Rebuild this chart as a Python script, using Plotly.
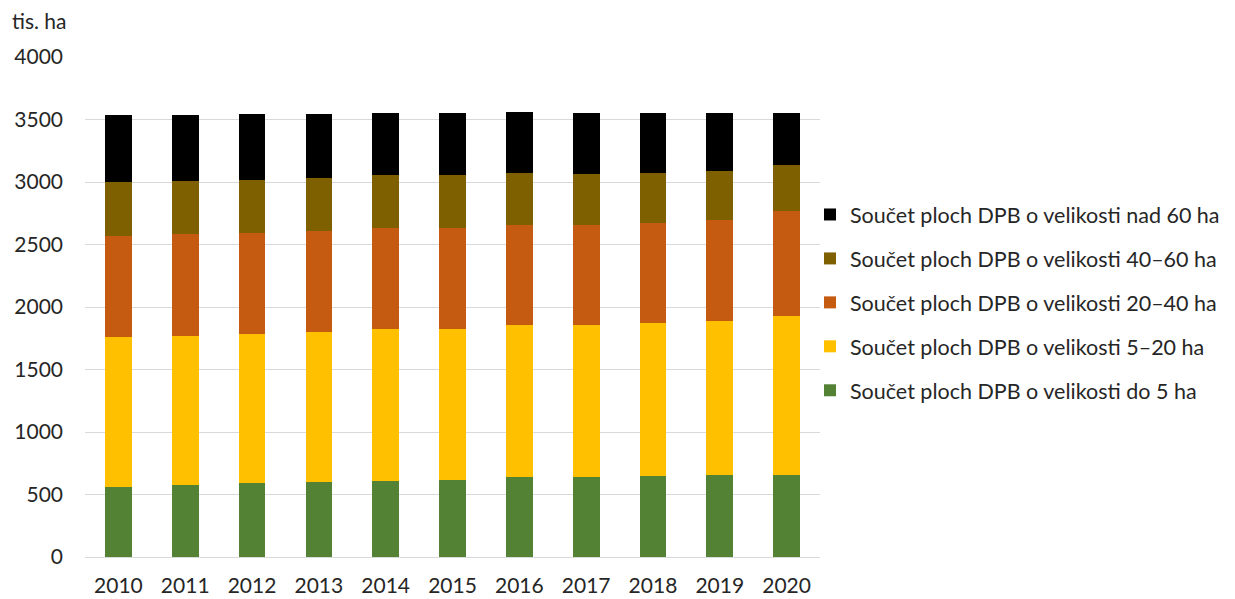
import plotly.graph_objects as go

years = ["2010", "2011", "2012", "2013", "2014", "2015", "2016", "2017", "2018", "2019", "2020"]

do_5 = [562, 574, 590, 600, 610, 618, 638, 638, 648, 656, 656]
od_5_20 = [1196, 1192, 1194, 1202, 1212, 1204, 1220, 1220, 1222, 1232, 1272]
od_20_40 = [808, 818, 808, 808, 810, 810, 798, 798, 800, 808, 842]
od_40_60 = [432, 424, 424, 424, 422, 422, 418, 408, 404, 394, 368]
nad_60 = [536, 526, 526, 508, 498, 498, 488, 490, 480, 464, 416]

names = [
    "Součet ploch DPB o velikosti do 5 ha",
    "Součet ploch DPB o velikosti 5–20 ha",
    "Součet ploch DPB o velikosti 20–40 ha",
    "Součet ploch DPB o velikosti 40–60 ha",
    "Součet ploch DPB o velikosti nad 60 ha",
]
series = [do_5, od_5_20, od_20_40, od_40_60, nad_60]
colors = ["#548235", "#FFC000", "#C55A11", "#7F6000", "#000000"]

FONT = "Lato, 'Open Sans', sans-serif"
TXT = "#262626"

L, T, W = 77, 49, 735

fig = go.Figure()
for i, (n, s, c) in enumerate(zip(names, series, colors)):
    fig.add_trace(go.Bar(x=years, y=s, name=n, marker=dict(color=c, line=dict(width=0)),
                         legendgroup=f"g{i}", legendrank=100 - i))

fig.update_layout(
    barmode="stack",
    bargap=0.6,
    width=1235, height=599,
    margin=dict(l=L, r=1235 - L - W, t=T, b=599 - T - 500, autoexpand=False),
    plot_bgcolor="white", paper_bgcolor="white",
    font=dict(family=FONT, size=21, color=TXT),
    legend=dict(x=(810 - 8 - L) / W, xanchor="left", y=1 - (194 - 8 - T) / 500, yanchor="top",
                traceorder="grouped", tracegroupgap=13,
                font=dict(size=21.5, color=TXT),
                itemwidth=30, bgcolor="rgba(0,0,0,0)"),
    xaxis=dict(showline=False, ticks="", tickfont=dict(size=21), ticklabelstandoff=14,
               automargin=False),
    yaxis=dict(range=[0, 4000], dtick=500, showgrid=True, gridcolor="#d9d9d9",
               gridwidth=1, zeroline=True, zerolinecolor="#d9d9d9", zerolinewidth=1,
               ticks="", ticklabelstandoff=21, tickfont=dict(size=21), automargin=False),
    annotations=[dict(text="tis. ha", xref="paper", yref="paper",
                      x=-(L - 2) / W, y=1.0, xanchor="left", yanchor="bottom",
                      yshift=22, showarrow=False, font=dict(size=21, color=TXT))],
)

fig.write_html("out.html")
